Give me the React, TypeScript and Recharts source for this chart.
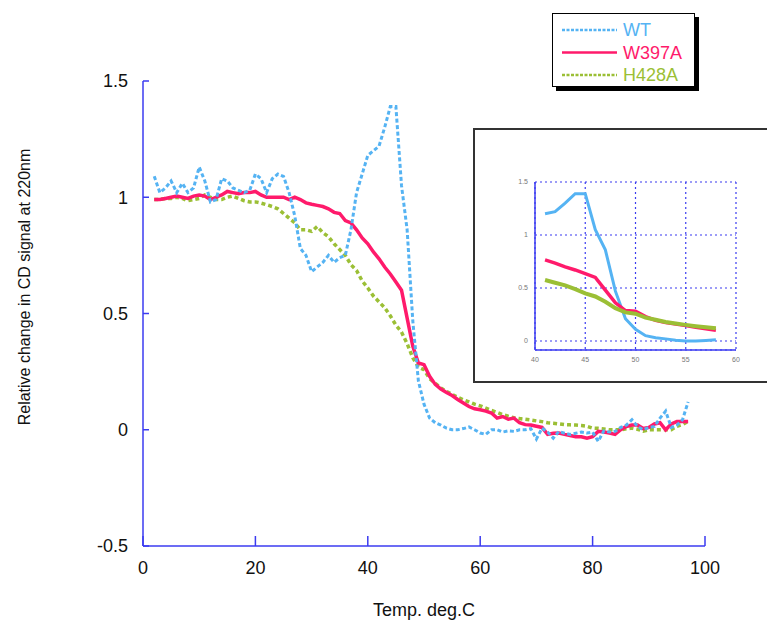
import React from 'react';
import { LineChart, Line, XAxis, YAxis, CartesianGrid } from 'recharts';

// temperature (deg C) at which each reading was taken
const temps = [
  2, 3, 4, 5, 6, 7, 8, 9, 10, 11,
  12, 13, 14, 15, 16, 17, 18, 19, 20, 21,
  22, 23, 24, 25, 26, 27, 28, 29, 30, 31,
  32, 33, 34, 35, 36, 37, 38, 39, 40, 41,
  42, 43, 44, 45, 46, 47, 48, 49, 50, 51,
  52, 53, 54, 55, 56, 57, 58, 59, 60, 61,
  62, 63, 64, 65, 66, 67, 68, 69, 70, 71,
  72, 73, 74, 75, 76, 77, 78, 79, 80, 81,
  82, 83, 84, 85, 86, 87, 88, 89, 90, 91,
  92, 93, 94, 95, 96, 97,
];

const wt = [
  1.09, 1.02, 1.04, 1.07, 1.02, 1.06, 1.02, 1.04, 1.13, 1.07,
  0.98, 0.99, 1.08, 1.07, 1.04, 1.03, 1.02, 1.03, 1.1, 1.08,
  1.02, 1.08, 1.1, 1.09, 1.02, 0.92, 0.78, 0.75, 0.68, 0.7,
  0.72, 0.75, 0.72, 0.74, 0.75, 0.86, 1.02, 1.1, 1.18, 1.2,
  1.22, 1.3, 1.39, 1.39, 1.05, 0.86, 0.47, 0.21, 0.11, 0.05,
  0.03, 0.02, 0.007, 0.0, 0.0, 0.005, 0.012, 0.0, -0.014, -0.02,
  0.0, 0.0, -0.01, -0.005, -0.007, 0.0, 0.0, 0.005, -0.04, 0.007,
  -0.01, -0.036, -0.007, -0.015, -0.02, -0.015, -0.01, -0.014, -0.01, -0.05,
  -0.005, -0.01, -0.007, 0.01, 0.02, 0.043, 0.014, 0.0, 0.01, 0.014,
  0.05, 0.08, 0.01, 0.02, 0.043, 0.12,
];

const w397a = [
  0.99, 0.99, 0.995, 1.0, 1.005, 1.0, 0.995, 1.005, 1.01, 1.005,
  0.99, 1.0, 1.01, 1.025, 1.02, 1.015, 1.02, 1.02, 1.025, 1.01,
  1.0, 1.0, 1.0, 1.0, 0.99, 1.0, 0.99, 0.976, 0.97, 0.965,
  0.96, 0.95, 0.935, 0.93, 0.9, 0.89, 0.86, 0.825, 0.8, 0.765,
  0.735, 0.7, 0.67, 0.635, 0.6, 0.48, 0.36, 0.287, 0.28, 0.23,
  0.195, 0.175, 0.16, 0.147, 0.13, 0.115, 0.1, 0.09, 0.086, 0.08,
  0.072, 0.05, 0.057, 0.045, 0.05, 0.03, 0.022, 0.02, 0.015, 0.01,
  -0.02, -0.015, -0.014, -0.02, -0.025, -0.03, -0.03, -0.036, -0.03, -0.007,
  -0.01, -0.014, -0.02, 0.0, 0.014, 0.02, 0.02, 0.005, 0.01, 0.025,
  0.03, 0.0, 0.025, 0.035, 0.035, 0.036,
];

const h428a = [
  0.99, 0.99, 0.995, 0.995, 1.0, 0.995, 0.985, 0.99, 0.995, 1.01,
  1.0, 0.99, 0.99, 1.0, 1.005, 0.995, 0.985, 0.98, 0.98, 0.975,
  0.968, 0.96, 0.95, 0.93, 0.91, 0.89, 0.86, 0.86, 0.853, 0.874,
  0.848, 0.83, 0.8, 0.775, 0.75, 0.71, 0.685, 0.64, 0.61, 0.575,
  0.55, 0.525, 0.49, 0.45, 0.42, 0.37, 0.31, 0.27, 0.258, 0.22,
  0.2, 0.18, 0.165, 0.152, 0.14, 0.129, 0.12, 0.11, 0.103, 0.093,
  0.083, 0.075, 0.065, 0.058, 0.052, 0.048, 0.045, 0.042, 0.038, 0.035,
  0.03, 0.028, 0.025, 0.022, 0.021, 0.02, 0.018, 0.015, 0.007, 0.006,
  0.003, 0.0, 0.0, 0.0, 0.004, 0.007, 0.002, -0.006, 0.0, 0.0,
  0.0, 0.0, 0.0, 0.015, 0.022, 0.036,
];

const xTicks = [0, 20, 40, 60, 80, 100];
const yTicks = [-0.5, 0, 0.5, 1, 1.5];
const insetXTicks = [40, 45, 50, 55, 60];
const insetYTicks = [0, 0.5, 1, 1.5];
const seriesNames = ['WT', 'W397A', 'H428A'];

const data = temps.map((t, i) => ({ t, wt: wt[i], w397a: w397a[i], h428a: h428a[i] }));
// inset zooms into the melting transition
const insetData = data.filter((d) => d.t >= 41 && d.t <= 58);

const FONT = '"Liberation Sans", Arial, sans-serif';
const AXIS_BLUE = '#3b3bf0';
const colors = ['#55b3f3', '#ff1a6b', '#9bbf35'];
const dashes = ['4 2.5', undefined, '4 3'];

const MainYTick = (props: any) => {
  const { x, y, payload } = props;
  const ax = x + 15;
  return (
    <g>
      <line x1={ax} x2={ax + 6} y1={y} y2={y} stroke={AXIS_BLUE} strokeWidth={1.5} />
      <text x={x} y={y} dy="0.35em" textAnchor="end" fontSize={18} fill="#111" fontFamily={FONT}>
        {payload.value}
      </text>
    </g>
  );
};

const MainXTick = (props: any) => {
  const { x, y, payload } = props;
  const ay = y - 15;
  return (
    <g>
      <line x1={x} x2={x} y1={ay} y2={ay - 10} stroke={AXIS_BLUE} strokeWidth={1.5} />
      <text x={x} y={y} dy="0.71em" textAnchor="middle" fontSize={18} fill="#111" fontFamily={FONT}>
        {payload.value}
      </text>
    </g>
  );
};

const InsetTick = (props: any) => {
  const { x, y, payload, anchor } = props;
  return (
    <text x={x} y={y} dy={anchor === 'end' ? '0.35em' : '0.71em'} textAnchor={anchor}
      fontSize={7} fill="#777" fontFamily={FONT}>
      {payload.value}
    </text>
  );
};

const App = () => {
  return (
    <div style={{ position: 'absolute', left: 0, top: 0, width: 767, height: 625, overflow: 'hidden', background: '#fff' }}>
      <LineChart width={767} height={625} data={data} margin={{ top: 81, right: 62, bottom: 0, left: 0 }}>
        <XAxis
          dataKey="t"
          type="number"
          domain={[0, 100]}
          ticks={xTicks}
          height={79}
          stroke={AXIS_BLUE}
          strokeWidth={1.5}
          tickSize={0}
          tickMargin={15}
          tickLine={false}
          tick={<MainXTick />}
        />
        <YAxis
          type="number"
          domain={[-0.5, 1.5]}
          ticks={yTicks}
          width={143}
          stroke={AXIS_BLUE}
          strokeWidth={1.5}
          tickSize={0}
          tickMargin={15}
          tickLine={false}
          tick={<MainYTick />}
        />
        <Line dataKey="h428a" stroke={colors[2]} strokeWidth={3.5} strokeDasharray={dashes[2]} dot={false} isAnimationActive={false} />
        <Line dataKey="w397a" stroke={colors[1]} strokeWidth={3.5} dot={false} isAnimationActive={false} />
        <Line dataKey="wt" stroke={colors[0]} strokeWidth={3} strokeDasharray={dashes[0]} dot={false} isAnimationActive={false} />
      </LineChart>

      <svg width={767} height={625} style={{ position: 'absolute', left: 0, top: 0, pointerEvents: 'none' }}>
        <text x={24} y={287} transform="rotate(-90 24 287)" textAnchor="middle" dy="0.35em"
          fontSize={16} fill="#111" fontFamily={FONT}>
          Relative change in CD signal at 220nm
        </text>
        <text x={424} y={610} textAnchor="middle" dy="0.35em" fontSize={18} fill="#111" fontFamily={FONT}>
          Temp. deg.C
        </text>
      </svg>

      <div style={{
        position: 'absolute', left: 473, top: 128, width: 300, height: 255,
        border: '2px solid #333', boxSizing: 'border-box', background: '#fff',
      }}>
        <LineChart width={296} height={251} data={insetData} margin={{ top: 52, right: 35, bottom: 0, left: 0 }}>
          <CartesianGrid stroke={AXIS_BLUE} strokeDasharray="2 3" strokeWidth={1.2} />
          <XAxis
            dataKey="t"
            type="number"
            domain={[40, 60]}
            ticks={insetXTicks}
            height={31}
            stroke={AXIS_BLUE}
            strokeWidth={1.5}
            tickSize={0}
            tickMargin={7}
            tickLine={false}
            tick={<InsetTick anchor="middle" />}
          />
          <YAxis
            type="number"
            domain={[-0.085, 1.5]}
            ticks={insetYTicks}
            width={60}
            stroke={AXIS_BLUE}
            strokeWidth={1.5}
            tickSize={0}
            tickMargin={7}
            tickLine={false}
            tick={<InsetTick anchor="end" />}
          />
          <Line dataKey="wt" stroke={colors[0]} strokeWidth={3} dot={false} isAnimationActive={false} />
          <Line dataKey="w397a" stroke={colors[1]} strokeWidth={3.5} dot={false} isAnimationActive={false} />
          <Line dataKey="h428a" stroke={colors[2]} strokeWidth={4} dot={false} isAnimationActive={false} />
        </LineChart>
      </div>

      <div style={{
        position: 'absolute', left: 552, top: 13, width: 143, height: 74,
        border: '1px solid #000', boxSizing: 'border-box', background: '#fff',
        boxShadow: '4px 4px 0 #000',
      }}>
        <svg width={141} height={72}>
          {seriesNames.map((name, i) => {
            const y = 16 + i * 22.5;
            return (
              <g key={name}>
                <line x1={9} x2={64} y1={y} y2={y} stroke={colors[i]} strokeWidth={2.5}
                  strokeDasharray={dashes[i] ? '3 1.5' : undefined} />
                <text x={70} y={y} dy="0.35em" fontSize={18} fill={colors[i]} fontFamily={FONT}>
                  {name}
                </text>
              </g>
            );
          })}
        </svg>
      </div>
    </div>
  );
};

export default App;
